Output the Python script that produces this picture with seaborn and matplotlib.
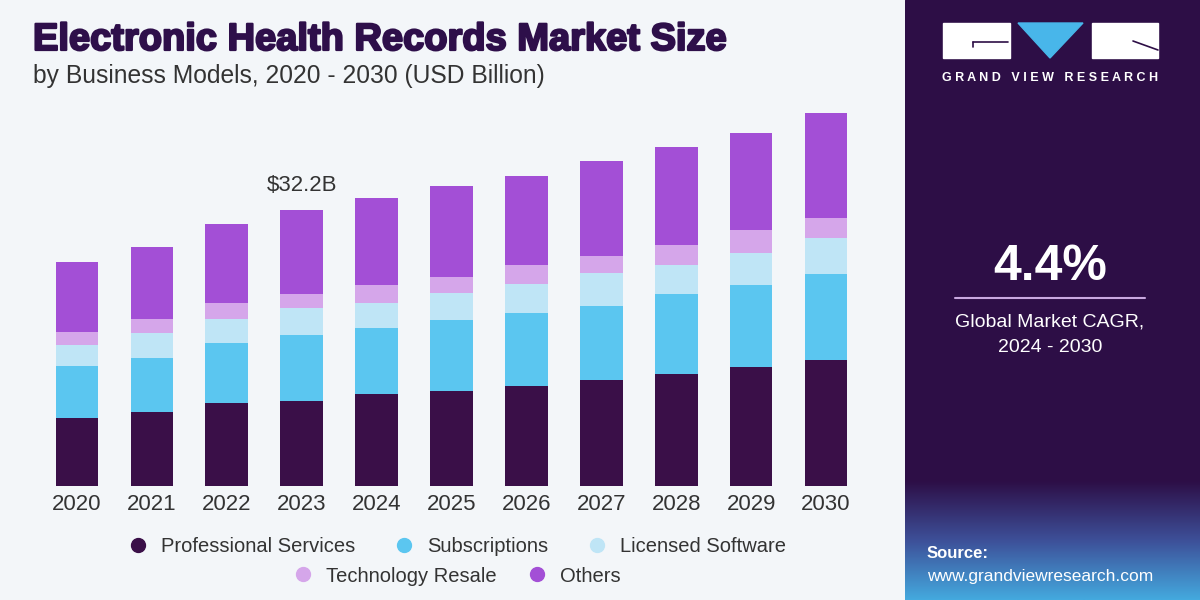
import numpy as np
import pandas as pd
import matplotlib
matplotlib.use("Agg")
import matplotlib.pyplot as plt
import matplotlib.patches as mpatches
import matplotlib.patheffects as pe
from matplotlib.lines import Line2D
from matplotlib.colors import LinearSegmentedColormap
import seaborn as sns

# data (USD billion)
years = ["2020", "2021", "2022", "2023", "2024", "2025", "2026", "2027", "2028", "2029", "2030"]
professional_services = [7.97, 8.67, 9.72, 9.95, 10.70, 11.08, 11.67, 12.37, 13.03, 13.92, 14.70]
subscriptions = [6.07, 6.23, 6.93, 7.70, 7.70, 8.28, 8.52, 8.63, 9.40, 9.53, 10.07]
licensed_software = [2.41, 2.92, 2.80, 3.15, 2.99, 3.15, 3.38, 3.82, 3.38, 3.77, 4.20]
technology_resale = [1.56, 1.63, 1.94, 1.60, 2.07, 1.87, 2.22, 2.02, 2.30, 2.65, 2.26]
others = [8.17, 8.44, 9.18, 9.80, 10.19, 10.62, 10.39, 11.12, 11.44, 11.35, 12.32]
segments = ["Professional Services", "Subscriptions", "Licensed Software", "Technology Resale", "Others"]
colors = ["#3a0f48", "#5bc6f0", "#bfe5f6", "#d5a6ea", "#a34fd6"]
label_year = "2023"
label_text = "$32.2B"

bg = "#f3f6f9"
panel = "#2d0e46"

df = pd.DataFrame({
    "year": years,
    "Professional Services": professional_services,
    "Subscriptions": subscriptions,
    "Licensed Software": licensed_software,
    "Technology Resale": technology_resale,
    "Others": others,
})
cum = df[segments].cumsum(axis=1)

sns.set_theme(style="white")
plt.rcParams["font.family"] = ["Liberation Sans", "DejaVu Sans"]

fig = plt.figure(figsize=(12, 6), dpi=100)
fig.patch.set_facecolor(bg)

# main bar axes, placed in pixel terms
ax = fig.add_axes([32 / 1200, 1 - 486 / 600, 839 / 1200, 428.5 / 600])
ax.set_facecolor("none")
# stacked bars: draw cumulative totals from top down
for seg, col in reversed(list(zip(segments, colors))):
    sns.barplot(x=df["year"], y=cum[seg], color=col, saturation=1, width=0.57,
                linewidth=0, ax=ax)
ax.set_xlim(-0.6, 10.6)
ax.set_ylim(0, 50)
ax.set_xlabel("")
ax.set_ylabel("")
ax.set_yticks([])
ax.tick_params(axis="x", length=0, labelsize=16, colors="#333333", pad=6)
for s in ax.spines.values():
    s.set_visible(False)

i = years.index(label_year)
ax.text(i, cum["Others"][i] + 1.6, label_text, ha="center", va="bottom",
        fontsize=16, color="#333333")

# titles
title_col = "#2e0f4a"
fig.text(33 / 1200, 1 - 40 / 600, "Electronic Health Records Market Size", fontsize=27.4,
         fontweight="heavy", color=title_col, va="center", ha="left",
         path_effects=[pe.withStroke(linewidth=1.6, foreground=title_col)])
fig.text(33 / 1200, 1 - 76 / 600, "by Business Models, 2020 - 2030 (USD Billion)", fontsize=17.7,
         color="#333333", va="center", ha="left")

# legend, two centred rows
handles = [Line2D([], [], marker="o", linestyle="", markersize=10, color=c) for c in colors]
leg1 = fig.legend(handles[:3], segments[:3], loc="center", bbox_to_anchor=(452 / 1200, 1 - 547 / 600),
                  ncol=3, frameon=False, handletextpad=0.15, columnspacing=1.4,
                  prop={"size": 14.5})
for t in leg1.get_texts():
    t.set_color("#333333")
leg2 = fig.legend(handles[3:], segments[3:], loc="center", bbox_to_anchor=(452 / 1200, 1 - 576 / 600),
                  ncol=2, frameon=False, handletextpad=0.15, columnspacing=1.0,
                  prop={"size": 14.5})
for t in leg2.get_texts():
    t.set_color("#333333")

# right panel
pax = fig.add_axes([905 / 1200, 0, 295 / 1200, 1])
pax.axis("off")
pax.add_patch(mpatches.Rectangle((905, 0), 295, 600, color=panel, zorder=0))
grad = LinearSegmentedColormap.from_list("g", [panel, "#3d4f98", "#44a9de"])
pax.imshow(np.linspace(0, 1, 100).reshape(-1, 1), cmap=grad, aspect="auto",
           extent=(905, 1200, 600, 480), zorder=1)
pax.set_xlim(905, 1200)
pax.set_ylim(600, 0)

# logo
pax.add_patch(mpatches.Rectangle((943, 23), 67, 35, color="white", zorder=2))
pax.add_patch(mpatches.Rectangle((1092, 23), 66, 35, color="white", zorder=2))
pax.add_patch(mpatches.Polygon([(1018, 23), (1083, 23), (1050, 58)], closed=True,
                               color="#48b6ea", zorder=2))
pax.plot([973, 1008], [42, 42], color=panel, lw=1.2, zorder=3)
pax.plot([973, 973], [42, 47], color=panel, lw=1.2, zorder=3)
pax.plot([1133, 1158], [41, 50], color=panel, lw=1.2, zorder=3)
pax.text(1050, 78, "G R A N D   V I E W   R E S E A R C H", ha="center", va="center",
         fontsize=9, fontweight="bold", color="white", zorder=3)

pax.text(1050, 267, "4.4%", ha="center", va="center", fontsize=36, fontweight="bold",
         color="white", zorder=3)
pax.plot([955, 1145], [298, 298], color="#c9a8e0", lw=1.5, zorder=3)
pax.text(1050, 322, "Global Market CAGR,", ha="center", va="center", fontsize=14,
         color="white", zorder=3)
pax.text(1050, 347, "2024 - 2030", ha="center", va="center", fontsize=14,
         color="white", zorder=3)

pax.text(927, 554, "Source:", ha="left", va="center", fontsize=12, fontweight="bold",
         color="white", zorder=3)
pax.text(927, 577, "www.grandviewresearch.com", ha="left", va="center", fontsize=12.5,
         color="white", zorder=3)

fig.savefig("out.png", dpi=100, facecolor=fig.get_facecolor())
